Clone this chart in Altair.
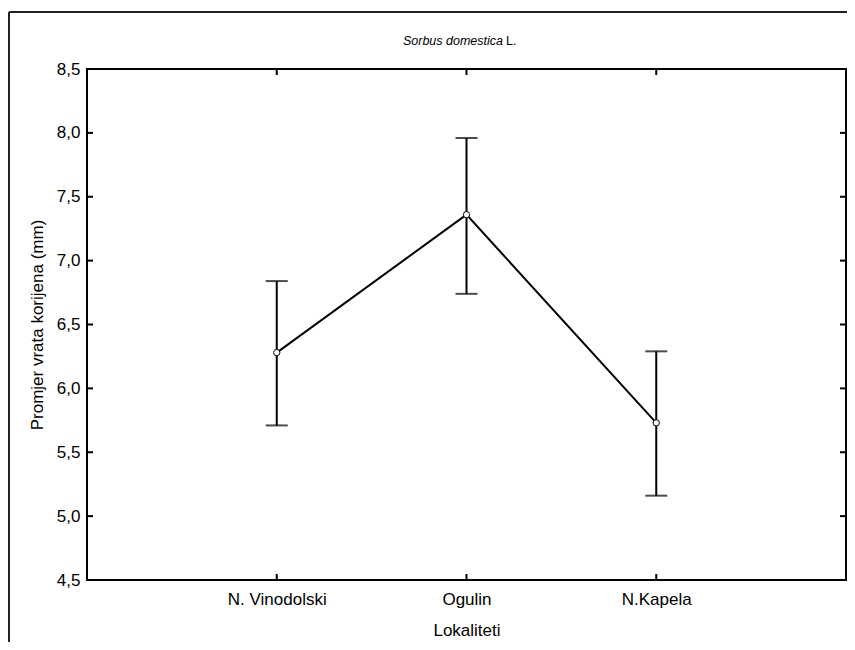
import altair as alt
import pandas as pd

cats = ["N. Vinodolski", "Ogulin", "N.Kapela"]
means = [6.28, 7.36, 5.73]
upper = [6.84, 7.96, 6.29]
lower = [5.71, 6.74, 5.16]
ytick_vals = [4.5, 5.0, 5.5, 6.0, 6.5, 7.0, 7.5, 8.0, 8.5]
inner_ticks = [5.0, 5.5, 6.0, 6.5, 7.0, 7.5, 8.0]

W, H = 759, 511
TL = 6
FONT = "Liberation Sans"

df = pd.DataFrame({"cat": cats, "mean": means, "hi": upper, "lo": lower})
tk = pd.DataFrame({"v": inner_ticks})
catdf = pd.DataFrame({"cat": cats})

xscale = alt.Scale(type="point", domain=cats, padding=1)
yscale = alt.Scale(domain=[4.5, 8.5], nice=False, zero=False)

x_axis = alt.Axis(title="Lokaliteti", labelAngle=0, ticks=False, tickSize=0, domain=False,
                  grid=False, labelPadding=11, titlePadding=15, labelFontSize=17, titleFontSize=17)
y_axis = alt.Axis(title="Promjer vrata korijena (mm)", values=ytick_vals, ticks=False, tickSize=0,
                  domain=False, grid=False, labelPadding=7, titlePadding=10,
                  labelExpr="replace(format(datum.value, '.1f'), '.', ',')",
                  labelFontSize=17, titleFontSize=17)

Xn = alt.X("cat:N", sort=cats, scale=xscale, axis=None)


def Yn(f):
    return alt.Y(f, scale=yscale, axis=None)


line = alt.Chart(df).mark_line(color="black", strokeWidth=2).encode(
    x=alt.X("cat:N", sort=cats, scale=xscale, axis=x_axis),
    y=alt.Y("mean:Q", scale=yscale, axis=y_axis))

err = alt.Chart(df).mark_rule(color="black", strokeWidth=2).encode(
    x=Xn, y=Yn("lo:Q"), y2="hi:Q")

cap_hi = alt.Chart(df).mark_tick(color="black", thickness=2, size=22, orient="horizontal").encode(
    x=Xn, y=Yn("hi:Q"))
cap_lo = alt.Chart(df).mark_tick(color="black", thickness=2, size=22, orient="horizontal").encode(
    x=Xn, y=Yn("lo:Q"))

pts = alt.Chart(df).mark_point(filled=True, fill="white", stroke="black", strokeWidth=1,
                               size=40, opacity=1).encode(x=Xn, y=Yn("mean:Q"))

# inward frame ticks on all four sides
lt = alt.Chart(tk).mark_rule(color="black", strokeWidth=2).encode(
    y=Yn("v:Q"), x=alt.value(0), x2=alt.value(TL))
rt = alt.Chart(tk).mark_rule(color="black", strokeWidth=2).encode(
    y=Yn("v:Q"), x=alt.value(W - TL), x2=alt.value(W))
tt = alt.Chart(catdf).mark_rule(color="black", strokeWidth=2).encode(
    x=Xn, y=alt.value(0), y2=alt.value(TL))
bt = alt.Chart(catdf).mark_rule(color="black", strokeWidth=2).encode(
    x=Xn, y=alt.value(H - TL), y2=alt.value(H))

# title with mixed styles
t1 = alt.Chart(pd.DataFrame({"t": ["Sorbus domestica"]})).mark_text(
    font=FONT, fontSize=12.5, fontStyle="italic", align="right", baseline="middle", color="black"
).encode(text="t:N", x=alt.value(416), y=alt.value(-28))
t2 = alt.Chart(pd.DataFrame({"t": ["L."]})).mark_text(
    font=FONT, fontSize=12.5, align="left", baseline="middle", color="black"
).encode(text="t:N", x=alt.value(419), y=alt.value(-28))

# outer frame (top and left edges visible)
ftop = alt.Chart(catdf.head(1)).mark_rule(color="#222222", strokeWidth=2).encode(
    x=alt.value(-78), x2=alt.value(W + 1), y=alt.value(-57))
fleft = alt.Chart(catdf.head(1)).mark_rule(color="#222222", strokeWidth=2).encode(
    x=alt.value(-78), y=alt.value(-57), y2=alt.value(H + 62))

chart = alt.layer(line, lt, rt, tt, bt, ftop, fleft,
                  err, cap_hi, cap_lo, pts, t1, t2).resolve_axis(
    x="independent", y="independent"
).properties(
    width=W, height=H,
    autosize=alt.AutoSizeParams(type="none"),
    padding={"left": 79, "top": 61, "right": 1, "bottom": 62},
    background="white",
).configure_view(stroke="black", strokeWidth=2).configure_axis(
    labelFont=FONT, titleFont=FONT, labelColor="black", titleColor="black", titleFontWeight="normal"
)

chart.save("out.html", embed_options={"renderer": "svg", "actions": False})
